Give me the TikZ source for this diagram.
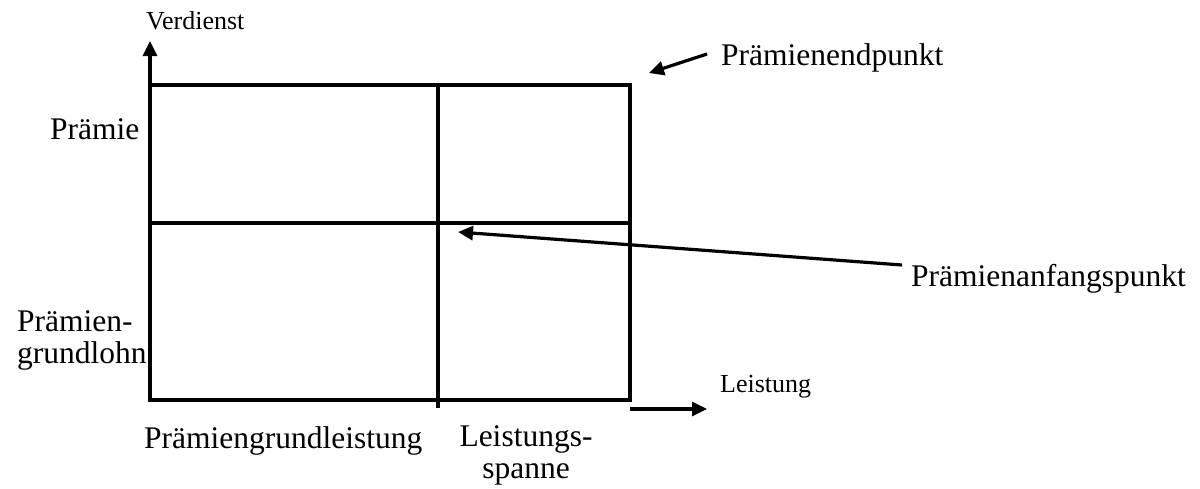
\documentclass[tikz,border=0pt]{standalone}
\usepackage{fontspec}
\setmainfont{Liberation Serif}
\usetikzlibrary{arrows.meta}
\tikzset{
  line/.style={line width=3.2pt, line cap=rect},
  arr/.style={line width=3.2pt, -{Triangle[length=15pt,width=14pt]}},
  big/.style={inner sep=0pt, font=\fontsize{31.5}{32}\selectfont},
  small/.style={inner sep=0pt, font=\fontsize{26}{30}\selectfont},
}
\begin{document}
\begin{tikzpicture}[x=1pt,y=-1pt]
\useasboundingbox (0,0) rectangle (1200,488);
% grid coordinates
\coordinate (tl) at (150,85);
\coordinate (tr) at (630,85);
\coordinate (bl) at (150,400);
\coordinate (br) at (630,400);
\coordinate (vt) at (438,85);
\coordinate (vb) at (438,406);
\coordinate (hl) at (150,223);
\coordinate (hr) at (630,223);
\coordinate (ytip) at (150,41);
\coordinate (xs) at (630,409);
\coordinate (xe) at (707,409);
\coordinate (es) at (707,54);
\coordinate (ee) at (649,73);
\coordinate (as) at (902,265);
\coordinate (ae) at (458,232);
% box and dividers
\draw[line] (tl) rectangle (br);
\draw[line] (vt) -- (vb);
\draw[line] (hl) -- (hr);
% axes
\draw[arr] (bl) -- (ytip);
\draw[arr] (xs) -- (xe);
% pointers
\draw[arr] (es) -- (ee);
\draw[arr] (as) -- (ae);
% labels
\node[small, anchor=base west] (verd) at (146,29) {Verdienst};
\node[small, anchor=base west] (leist) at (720,392) {Leistung};
\node[big, anchor=base west] (endp) at (721,65) {Prämienendpunkt};
\node[big, anchor=base west] (anfp) at (911,286) {Prämienanfangspunkt};
\node[big, anchor=base west] (praem) at (50,139) {Prämie};
\node[big, anchor=base west, align=left] (pgl) at (17,363) {Prämien-\\grundlohn};
\node[big, anchor=base west] (pgle) at (144,448) {Prämiengrundleistung};
\node[big, anchor=base, align=center] (lsp) at (526,478) {Leistungs-\\spanne};
\end{tikzpicture}
\end{document}
